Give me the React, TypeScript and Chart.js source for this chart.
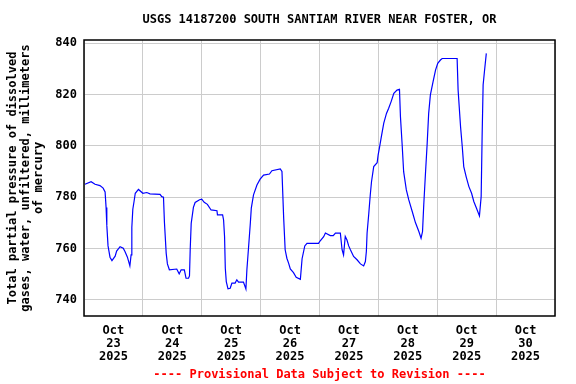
import React, { useEffect, useRef } from "react";
import { Chart, registerables } from "chart.js";

Chart.register(...registerables);

const TITLE = "USGS 14187200 SOUTH SANTIAM RIVER NEAR FOSTER, OR";
const FOOTNOTE = "---- Provisional Data Subject to Revision ----";
const Y_TITLE = [
  "Total partial pressure of dissolved",
  "gases, water, unfiltered, millimeters",
  "of mercury",
];
const MONTH = "Oct";
const YEAR = "2025";
const DAY_LABELS = ["23", "24", "25", "26", "27", "28", "29", "30"];

// hours since Oct 23 2025 00:00
const hours = [
  0.4, 2.9, 4.5, 6.5, 7.8, 8.6, 9.0, 9.3, 9.8, 10.6, 11.4, 12.7, 13.3, 14.7, 16.0, 16.7,
  17.7, 18.7, 19.2, 19.5, 19.9, 20.4, 20.9, 22.2, 24.0, 25.6, 26.9, 31.0, 31.7, 32.4,
  32.8, 33.5, 34.0, 34.8, 37.8, 38.8, 39.6, 40.9, 41.6, 42.6, 43.0, 43.3, 43.7, 44.6,
  45.3, 47.1, 48.0, 49.0, 50.3, 51.8, 54.2, 54.4, 56.5, 56.9, 57.3, 57.6, 58.0, 58.7,
  59.6, 60.3, 61.6, 62.3, 63.0, 65.0, 66.0, 66.4, 67.1, 67.8, 68.2, 69.1, 70.5, 71.8,
  73.2, 75.6, 76.6, 80.0, 80.7, 81.4, 82.0, 82.7, 83.4, 84.1, 85.4, 86.5, 88.2, 88.9,
  90.0, 90.9, 95.6, 96.3, 97.7, 98.4, 100.4, 101.6, 102.5, 104.5, 105.2, 105.8, 106.5,
  107.2, 107.9, 108.6, 109.9, 111.3, 112.7, 114.0, 114.7, 115.1, 115.4, 116.1, 116.7,
  117.2, 118.1, 119.5, 119.9, 120.5, 121.2, 122.2, 123.3, 124.2, 125.2, 126.3, 127.6,
  128.6, 129.0, 129.7, 130.3, 131.4, 132.4, 133.8, 135.1, 136.5, 137.4, 138.0, 138.5,
  139.2, 139.9, 140.5, 141.2, 142.3, 143.3, 144.2, 145.3, 146.0, 152.1, 152.5, 153.5,
  154.2, 154.8, 155.8, 156.9, 158.0, 158.9, 160.0, 161.2, 161.9, 162.3, 162.7, 163.3,
  164.0,
];

const values = [
  785, 786, 785, 784.5, 783.5, 782, 776, 769, 761, 756.6, 755.3, 757, 759, 760.7, 760.1, 758.8,
  756.6, 753.2, 757.5, 768.3, 775.3, 778.3, 781.5, 783, 781.5, 781.8, 781.3, 781.1, 780.2, 780,
  770, 758.2, 754, 751.7, 752, 750.1, 751.7, 751.7, 748.4, 748.4, 749.3, 759.8, 769.8, 776,
  777.9, 779, 779.2, 778, 777.2, 775, 774.7, 773.1, 773.1, 771.1, 764.6, 752.3, 747.1, 744.3,
  744.5, 746.5, 746.5, 747.8, 746.9, 746.9, 744.2, 751.7, 760.7, 769.8, 775.7, 780.9, 784.7, 787,
  788.6, 789, 790.3, 791, 790, 771.8, 759.5, 756.2, 754.3, 752, 750.6, 748.8, 748, 756,
  761, 762, 762, 763, 764.6, 766, 765, 765, 766, 766, 759.5, 757.5, 764.7,
  763.3, 761, 759.5, 756.9, 755.6, 754, 753.2, 754.9, 758.8, 766, 773.7, 780.9,
  786, 791.9, 793.4, 796.4, 799.6, 803.5, 808.8, 812.6, 814.6, 817.2, 820.4, 821.7,
  822, 811.3, 800.3, 789.9, 782.8, 778.9, 774.4, 770.1, 766.6, 764, 766.6, 777,
  789.3, 801, 812.6, 819.8, 825, 829.5, 832.1, 833.4, 834, 834, 821.7, 807.4,
  799.6, 791.9, 787.9, 784.1, 781.5, 778.3, 775.7, 772.7, 780.2, 804.2, 823.7, 829.5,
  836,
];

const FONT_FAMILY = "'DejaVu Sans Mono', monospace";

const framePlugin = {
  id: "frameAndText",
  afterDraw(chart: any) {
    const { ctx, chartArea } = chart;
    const cx = (chartArea.left + chartArea.right) / 2;
    ctx.save();
    ctx.strokeStyle = "#000000";
    ctx.lineWidth = 1.5;
    ctx.strokeRect(chartArea.left, chartArea.top, chartArea.right - chartArea.left, chartArea.bottom - chartArea.top);
    ctx.font = `bold 12px ${FONT_FAMILY}`;
    ctx.textAlign = "center";
    ctx.textBaseline = "middle";
    ctx.fillStyle = "#000000";
    ctx.fillText(TITLE, cx, 20);
    ctx.fillStyle = "#ff0000";
    ctx.fillText(FOOTNOTE, cx, 375);
    ctx.restore();
  },
};

export default function App() {
  const canvasRef = useRef<HTMLCanvasElement | null>(null);

  useEffect(() => {
    if (!canvasRef.current) return;
    const data = hours.map((h, i) => ({ x: h, y: values[i] }));
    const chart = new Chart(canvasRef.current, {
      type: "line",
      data: {
        datasets: [
          {
            data,
            borderColor: "#0000ff",
            borderWidth: 1.2,
            pointRadius: 0,
            tension: 0,
            fill: false,
          },
        ],
      },
      options: {
        responsive: false,
        animation: false,
        layout: { padding: { left: 0, top: 40, right: 21, bottom: 18 } },
        plugins: {
          legend: { display: false },
          title: { display: false },
          tooltip: { enabled: false },
        },
        scales: {
          x: {
            type: "linear",
            min: 0,
            max: 192,
            afterFit: (scale: any) => {
              scale.height = 50;
            },
            border: { display: false },
            grid: {
              drawTicks: false,
              color: (ctx: any) =>
                ctx.tick && ctx.tick.value % 24 === 0 ? "#cccccc" : "rgba(0,0,0,0)",
              lineWidth: 1,
            },
            ticks: {
              stepSize: 12,
              autoSkip: false,
              maxRotation: 0,
              includeBounds: false,
              padding: 8,
              color: "#000000",
              font: { family: FONT_FAMILY, size: 12, weight: "bold", lineHeight: 1.08 },
              callback: (v: any) => {
                const n = Number(v);
                if (n % 24 !== 12) return "";
                const idx = Math.floor(n / 24);
                return [MONTH, DAY_LABELS[idx], YEAR];
              },
            },
          },
          y: {
            type: "linear",
            min: 733.7,
            max: 841.2,
            afterFit: (scale: any) => {
              scale.width = 84;
            },
            border: { display: false },
            grid: { drawTicks: false, color: "#cccccc", lineWidth: 1 },
            ticks: {
              stepSize: 20,
              includeBounds: false,
              padding: 7,
              color: "#000000",
              font: { family: FONT_FAMILY, size: 12, weight: "bold" },
            },
            title: {
              display: true,
              text: Y_TITLE,
              color: "#000000",
              padding: { top: 6, bottom: 0 },
              font: { family: FONT_FAMILY, size: 12, weight: "bold", lineHeight: 1.08 },
            },
          },
        },
      },
      plugins: [framePlugin],
    });
    return () => chart.destroy();
  }, []);

  return (
    <div style={{ position: "fixed", left: 0, top: 0, width: 576, height: 384, background: "#ffffff" }}>
      <canvas ref={canvasRef} width={576} height={384} />
    </div>
  );
}
